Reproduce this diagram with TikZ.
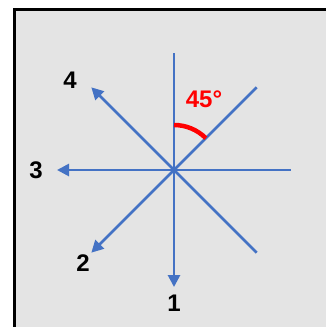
\documentclass[tikz,border=0pt]{standalone}
\usepackage{fontspec}
\setmainfont{Liberation Sans}
\usetikzlibrary{arrows.meta}

\definecolor{rayblue}{RGB}{68,114,196}
\definecolor{panelgray}{RGB}{228,228,228}

\begin{document}
\begin{tikzpicture}[
x=1pt, y=-1pt,
ray/.style={draw=rayblue, line width=2.7pt},
arrow/.style={ray, -{Triangle[length=12pt, width=12pt]}},
lbl/.style={font=\bfseries\fontsize{24}{28}\selectfont, inner sep=0pt},
angle/.style={draw=red, line width=4.5pt}
]
\useasboundingbox (0,0) rectangle (325,327);
\fill[panelgray] (14,9) rectangle (330,330);
\draw[line width=3pt] (14,332) -- (14,9) -- (330,9);
% centre and ray ends
\coordinate (o) at (174,170);
\coordinate (up) at (174,53);
\coordinate (down) at (174,287);
\coordinate (left) at (57,170);
\coordinate (right) at (291,170);
\coordinate (ne) at (256.7,87.3);
\coordinate (se) at (256.7,252.7);
\coordinate (nw) at (91.3,87.3);
\coordinate (sw) at (91.3,252.7);
% plain rays
\draw[ray] (o) -- (up);
\draw[ray] (o) -- (right);
\draw[ray] (o) -- (ne);
\draw[ray] (o) -- (se);
% numbered directions
\draw[arrow] (o) -- (down);
\draw[arrow] (o) -- (sw);
\draw[arrow] (o) -- (left);
\draw[arrow] (o) -- (nw);
\node[lbl] (d1) at (174,303) {1};
\node[lbl] (d2) at (83,263) {2};
\node[lbl] (d3) at (36,170) {3};
\node[lbl] (d4) at (70,80) {4};
% angle mark
\draw[angle] (o) ++(0,-45) arc[start angle=-90, end angle=-45, radius=45];
\node[lbl, text=red] (deg) at (204,99) {45°};
\end{tikzpicture}
\end{document}
